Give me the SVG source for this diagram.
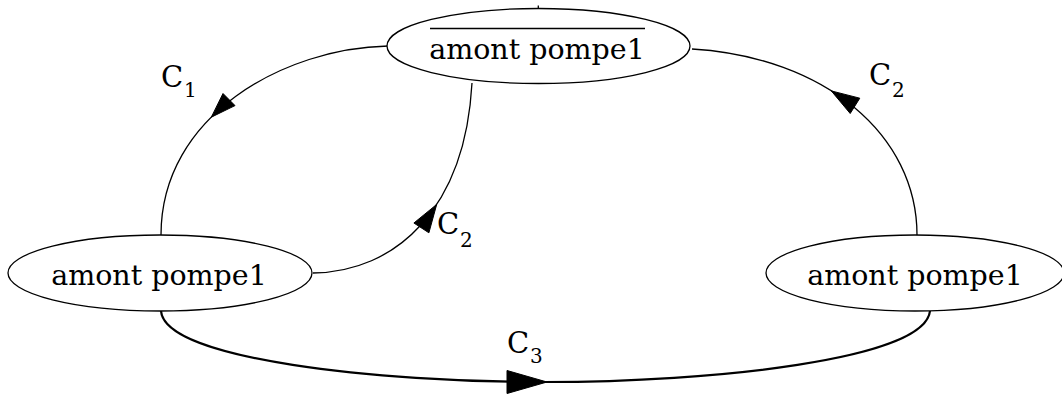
<svg xmlns="http://www.w3.org/2000/svg" width="1062" height="397" viewBox="0 0 1062 397">
<style>
.node ellipse{fill:#fff;stroke:#000;stroke-width:1.3}
.ntxt{font-family:"DejaVu Serif","Liberation Serif",serif;font-size:28.5px;text-anchor:middle;fill:#000}
.edge{fill:none;stroke:#000;stroke-width:1.3}
.thick{stroke-width:2.2}
.head{fill:#000;stroke:#000;stroke-width:1}
.lbl{font-family:"DejaVu Serif","Liberation Serif",serif;font-size:29px;fill:#000}
.sub{font-size:20px}
</style>
<rect width="1062" height="397" fill="#fff"/>
<g id="connectors">
  <path class="edge" d="M388,46 C285,48 161,115 161,235"/>
  <polygon class="head" points="211.3,117.2 235,105.6 223,93.5"/>
  <path class="edge" d="M313,273 C395,272 465,210 472,83"/>
  <polygon class="head" points="436.7,204.4 428.9,232.8 413.9,223"/>
  <path class="edge" d="M917,235 C917,135 825,57 692,49"/>
  <polygon class="head" points="831.3,90.9 859.8,98.2 850.2,113.5"/>
  <path class="edge thick" d="M161,311 C165,360 380,382 545,382 C710,382 925,360 930,311"/>
  <polygon class="head" points="547,382 507,370.5 507,393.5"/>
  <line class="edge" x1="538.3" y1="5.5" x2="538.3" y2="9"/>
  <text class="lbl" x="161" y="87">C<tspan class="sub" x="184" y="97">1</tspan></text>
  <text class="lbl" x="437" y="234">C<tspan class="sub" x="460" y="247">2</tspan></text>
  <text class="lbl" x="869" y="85">C<tspan class="sub" x="892" y="97">2</tspan></text>
  <text class="lbl" x="507" y="353">C<tspan class="sub" x="530" y="363">3</tspan></text>
</g>
<g id="node-top" class="node">
  <ellipse cx="538.5" cy="46" rx="151.5" ry="37.5"/>
  <line x1="430" y1="28.5" x2="645" y2="28.5" stroke="#000" stroke-width="1.3"/>
  <text class="ntxt" x="537" y="59">amont pompe1</text>
</g>
<g id="node-left" class="node">
  <ellipse cx="160" cy="273" rx="152" ry="38"/>
  <text class="ntxt" x="159" y="285">amont pompe1</text>
</g>
<g id="node-right" class="node">
  <ellipse cx="915" cy="273" rx="149" ry="38"/>
  <text class="ntxt" x="915" y="285">amont pompe1</text>
</g>
</svg>
